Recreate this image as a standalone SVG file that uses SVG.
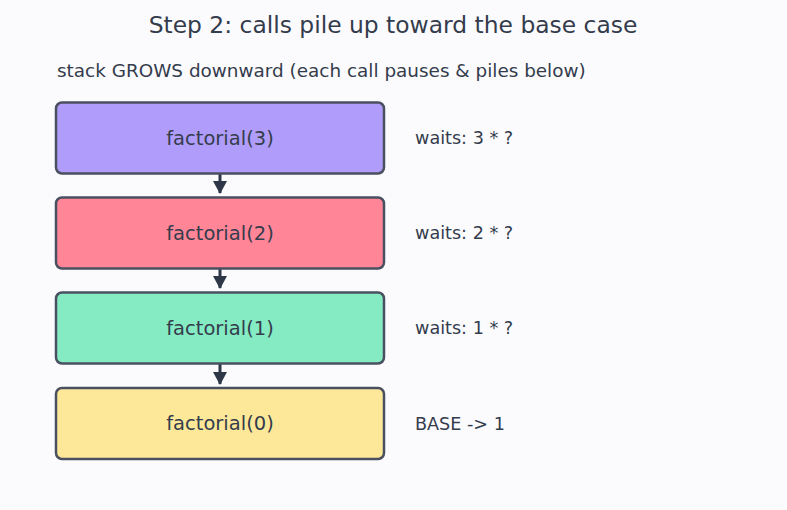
<svg xmlns="http://www.w3.org/2000/svg" width="787" height="510" viewBox="0 0 787 510">
<defs>
<style>
text{font-family:"DejaVu Sans",sans-serif;fill:#343c4c}
.box{stroke:#4b5060;stroke-width:2.5}
.lbl{font-size:19.5px;text-anchor:middle;dominant-baseline:central}
.side{font-size:17.6px;dominant-baseline:central}
.conn{stroke:#2d3748;stroke-width:3;fill:none}
</style>
<marker id="arr" viewBox="0 0 13 14" refX="12" refY="7" markerWidth="13" markerHeight="14" markerUnits="userSpaceOnUse" orient="auto">
<path d="M0,0 L13,7 L0,14 z" fill="#2d3748"/>
</marker>
</defs>
<rect width="787" height="510" fill="#fbfbfe"/>
<text x="393" y="25" font-size="23.4" text-anchor="middle" dominant-baseline="central">Step 2: calls pile up toward the base case</text>
<text x="57" y="70" font-size="18.4" dominant-baseline="central">stack GROWS downward (each call pauses &amp; piles below)</text>
<g id="connectors">
<line class="conn" x1="220" y1="174" x2="220" y2="193" marker-end="url(#arr)"/>
<line class="conn" x1="220" y1="269" x2="220" y2="288" marker-end="url(#arr)"/>
<line class="conn" x1="220" y1="364" x2="220" y2="384" marker-end="url(#arr)"/>
</g>
<g id="n3">
<rect class="box" x="56" y="102.5" width="328" height="71" rx="6" fill="#b09cfa"/>
<text class="lbl" x="220" y="138">factorial(3)</text>
<text class="side" x="415" y="138">waits: 3 * ?</text>
</g>
<g id="n2">
<rect class="box" x="56" y="197.5" width="328" height="71" rx="6" fill="#ff8597"/>
<text class="lbl" x="220" y="233">factorial(2)</text>
<text class="side" x="415" y="233">waits: 2 * ?</text>
</g>
<g id="n1">
<rect class="box" x="56" y="292.5" width="328" height="71" rx="6" fill="#84ebc3"/>
<text class="lbl" x="220" y="328">factorial(1)</text>
<text class="side" x="415" y="328">waits: 1 * ?</text>
</g>
<g id="n0">
<rect class="box" x="56" y="388" width="328" height="71" rx="6" fill="#fde899"/>
<text class="lbl" x="220" y="423.5">factorial(0)</text>
<text class="side" x="415" y="423.5">BASE -&gt; 1</text>
</g>
</svg>
